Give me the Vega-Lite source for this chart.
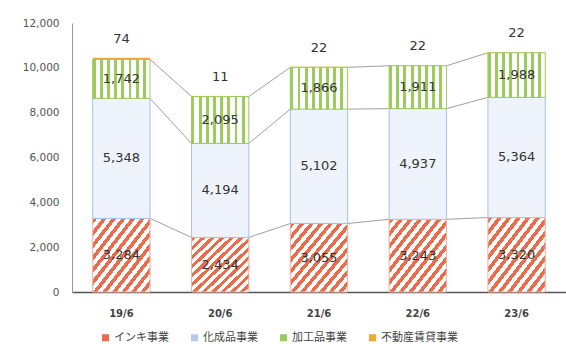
{
"$schema":"https://vega.github.io/schema/vega-lite/v6.json",
"width":494,"height":269,
"autosize":{"type":"none"},
"padding":{"left":72,"top":23,"right":0,"bottom":52},
"background":"white",
"config":{"view":{"stroke":null},"axisY":{"title":null,"labelExpr":"format(datum.value, ',')","grid":false,"ticks":false,"labelPadding":13,"labelFont":"DejaVu Sans","labelFontSize":10.5,"labelColor":"#555","domainColor":"#999"}},
"data":{"values":[
{"period":"19/6","series":"インキ事業","order":1,"value":3284},
{"period":"19/6","series":"化成品事業","order":2,"value":5348},
{"period":"19/6","series":"加工品事業","order":3,"value":1742},
{"period":"19/6","series":"不動産賃貸事業","order":4,"value":74},
{"period":"20/6","series":"インキ事業","order":1,"value":2434},
{"period":"20/6","series":"化成品事業","order":2,"value":4194},
{"period":"20/6","series":"加工品事業","order":3,"value":2095},
{"period":"20/6","series":"不動産賃貸事業","order":4,"value":11},
{"period":"21/6","series":"インキ事業","order":1,"value":3055},
{"period":"21/6","series":"化成品事業","order":2,"value":5102},
{"period":"21/6","series":"加工品事業","order":3,"value":1866},
{"period":"21/6","series":"不動産賃貸事業","order":4,"value":22},
{"period":"22/6","series":"インキ事業","order":1,"value":3243},
{"period":"22/6","series":"化成品事業","order":2,"value":4937},
{"period":"22/6","series":"加工品事業","order":3,"value":1911},
{"period":"22/6","series":"不動産賃貸事業","order":4,"value":22},
{"period":"23/6","series":"インキ事業","order":1,"value":3320},
{"period":"23/6","series":"化成品事業","order":2,"value":5364},
{"period":"23/6","series":"加工品事業","order":3,"value":1988},
{"period":"23/6","series":"不動産賃貸事業","order":4,"value":22}
]},
"transform":[{"stack":"value","groupby":["period"],"sort":[{"field":"order","order":"ascending"}],"as":["y0","y1"]}],
"encoding":{"x":{"field":"period","type":"nominal","scale":{"paddingInner":0.42,"paddingOuter":0.21},"axis":{"title":null,"labelAngle":0,"ticks":false,"labelPadding":16,"labelFont":"DejaVu Sans","labelFontSize":10,"labelFontWeight":"bold","labelColor":"#444","domainColor":"#555","domainWidth":1.5}}},
"layer":[
{"transform":[{"filter":"datum.order<=3"},{"window":[{"op":"lead","field":"y1","as":"y1n"},{"op":"lead","field":"period","as":"pn"}],"groupby":["series"],"sort":[{"field":"period","order":"ascending"}]},{"filter":"datum.pn != null"}],
 "mark":{"type":"rule","color":"#A0A0A0","strokeWidth":1,"xOffset":28.7,"x2Offset":-28.7},
 "encoding":{"x2":{"field":"pn"},"y":{"field":"y1","type":"quantitative","scale":{"domain":[0,12000],"nice":false},"axis":{"title":null,"values":[0,2000,4000,6000,8000,10000,12000]}},"y2":{"field":"y1n"}}},
{"mark":{"type":"bar"},
 "encoding":{"y":{"field":"y1","type":"quantitative"},"y2":{"field":"y0"},
 "color":{"field":"series","type":"nominal","scale":{"domain":["インキ事業","化成品事業","加工品事業","不動産賃貸事業"],"range":["#E96C4C","#B4C9EE","#9CCB5E","#F0A830"]},
  "legend":{"orient":"none","legendX":28,"legendY":309,"direction":"horizontal","title":null,"symbolType":"square","symbolSize":50,"labelFont":"Noto Sans CJK JP","labelFontSize":11,"labelColor":"#444","columnPadding":20,"labelOffset":3}}}},
{"transform":[{"filter":"datum.order==1"}],
 "mark":{"type":"bar","fill":{"gradient":"linear","x1":0,"y1":0,"x2":1,"y2":1,"stops":[
 {"offset":0,"color":"#E96C4C"},{"offset":0.04,"color":"#E96C4C"},{"offset":0.04,"color":"#ffffff"},{"offset":0.08333,"color":"#ffffff"},
 {"offset":0.08333,"color":"#E96C4C"},{"offset":0.12333,"color":"#E96C4C"},{"offset":0.12333,"color":"#ffffff"},{"offset":0.16667,"color":"#ffffff"},
 {"offset":0.16667,"color":"#E96C4C"},{"offset":0.20667,"color":"#E96C4C"},{"offset":0.20667,"color":"#ffffff"},{"offset":0.25,"color":"#ffffff"},
 {"offset":0.25,"color":"#E96C4C"},{"offset":0.29,"color":"#E96C4C"},{"offset":0.29,"color":"#ffffff"},{"offset":0.33333,"color":"#ffffff"},
 {"offset":0.33333,"color":"#E96C4C"},{"offset":0.37333,"color":"#E96C4C"},{"offset":0.37333,"color":"#ffffff"},{"offset":0.41667,"color":"#ffffff"},
 {"offset":0.41667,"color":"#E96C4C"},{"offset":0.45667,"color":"#E96C4C"},{"offset":0.45667,"color":"#ffffff"},{"offset":0.5,"color":"#ffffff"},
 {"offset":0.5,"color":"#E96C4C"},{"offset":0.54,"color":"#E96C4C"},{"offset":0.54,"color":"#ffffff"},{"offset":0.58333,"color":"#ffffff"},
 {"offset":0.58333,"color":"#E96C4C"},{"offset":0.62333,"color":"#E96C4C"},{"offset":0.62333,"color":"#ffffff"},{"offset":0.66667,"color":"#ffffff"},
 {"offset":0.66667,"color":"#E96C4C"},{"offset":0.70667,"color":"#E96C4C"},{"offset":0.70667,"color":"#ffffff"},{"offset":0.75,"color":"#ffffff"},
 {"offset":0.75,"color":"#E96C4C"},{"offset":0.79,"color":"#E96C4C"},{"offset":0.79,"color":"#ffffff"},{"offset":0.83333,"color":"#ffffff"},
 {"offset":0.83333,"color":"#E96C4C"},{"offset":0.87333,"color":"#E96C4C"},{"offset":0.87333,"color":"#ffffff"},{"offset":0.91667,"color":"#ffffff"},
 {"offset":0.91667,"color":"#E96C4C"},{"offset":0.95667,"color":"#E96C4C"},{"offset":0.95667,"color":"#ffffff"},{"offset":1,"color":"#ffffff"}
 ]},"stroke":"#F2B4A4","strokeWidth":1},
 "encoding":{"y":{"field":"y1","type":"quantitative"},"y2":{"field":"y0"}}},
{"transform":[{"filter":"datum.order==2"}],
 "mark":{"type":"bar","fill":"#EEF3FC","stroke":"#A8C2EC","strokeWidth":1},
 "encoding":{"y":{"field":"y1","type":"quantitative"},"y2":{"field":"y0"}}},
{"transform":[{"filter":"datum.order==3"}],
 "mark":{"type":"bar","fill":{"gradient":"linear","x1":0,"y1":0,"x2":1,"y2":0,"stops":[
 {"offset":0,"color":"#9CCB5E"},{"offset":0.05,"color":"#9CCB5E"},{"offset":0.05,"color":"#ffffff"},{"offset":0.125,"color":"#ffffff"},
 {"offset":0.125,"color":"#9CCB5E"},{"offset":0.175,"color":"#9CCB5E"},{"offset":0.175,"color":"#ffffff"},{"offset":0.25,"color":"#ffffff"},
 {"offset":0.25,"color":"#9CCB5E"},{"offset":0.3,"color":"#9CCB5E"},{"offset":0.3,"color":"#ffffff"},{"offset":0.375,"color":"#ffffff"},
 {"offset":0.375,"color":"#9CCB5E"},{"offset":0.425,"color":"#9CCB5E"},{"offset":0.425,"color":"#ffffff"},{"offset":0.5,"color":"#ffffff"},
 {"offset":0.5,"color":"#9CCB5E"},{"offset":0.55,"color":"#9CCB5E"},{"offset":0.55,"color":"#ffffff"},{"offset":0.625,"color":"#ffffff"},
 {"offset":0.625,"color":"#9CCB5E"},{"offset":0.675,"color":"#9CCB5E"},{"offset":0.675,"color":"#ffffff"},{"offset":0.75,"color":"#ffffff"},
 {"offset":0.75,"color":"#9CCB5E"},{"offset":0.8,"color":"#9CCB5E"},{"offset":0.8,"color":"#ffffff"},{"offset":0.875,"color":"#ffffff"},
 {"offset":0.875,"color":"#9CCB5E"},{"offset":0.925,"color":"#9CCB5E"},{"offset":0.925,"color":"#ffffff"},{"offset":1,"color":"#ffffff"}
 ]},"stroke":"#9CCB5E","strokeWidth":1},
 "encoding":{"y":{"field":"y1","type":"quantitative"},"y2":{"field":"y0"}}},
{"transform":[{"filter":"datum.order<=3"},{"fold":["y0","y1"],"as":["k","pos"]}],
 "mark":{"type":"text","font":"DejaVu Sans","fontSize":13,"color":"#333"},
 "encoding":{"y":{"aggregate":"mean","field":"pos","type":"quantitative"},"text":{"aggregate":"max","field":"value","type":"quantitative","format":","},"detail":{"field":"series"}}},
{"transform":[{"filter":"datum.order==4"}],
 "mark":{"type":"text","font":"DejaVu Sans","fontSize":13,"color":"#333","dy":-19},
 "encoding":{"y":{"field":"y1","type":"quantitative"},"text":{"field":"value","type":"quantitative","format":","}}}
]
}
